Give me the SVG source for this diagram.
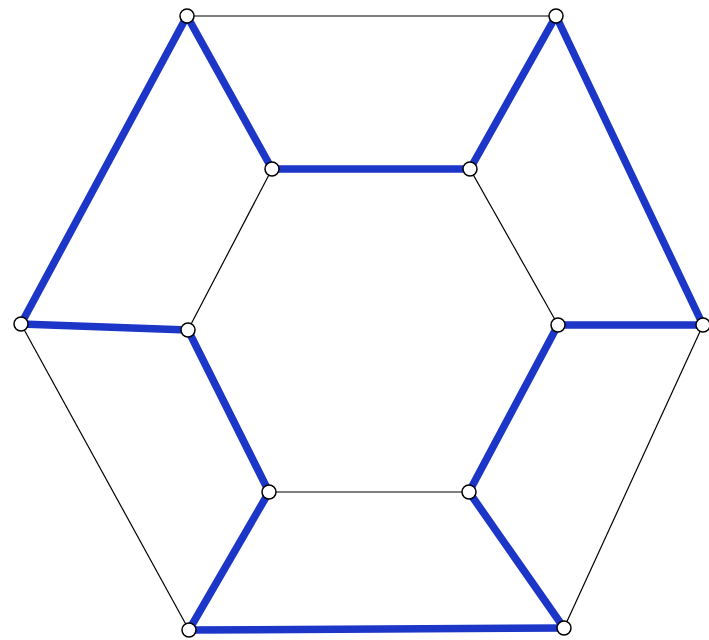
<svg xmlns="http://www.w3.org/2000/svg" width="709" height="640" viewBox="0 0 709 640">
<style>
.thin{stroke:#000;stroke-width:1.2;fill:none}
.blue{stroke:#1c36c8;stroke-width:7.5;fill:none;stroke-linecap:round}
.node{fill:#fff;stroke:#000;stroke-width:1.5}
</style>
<rect width="709" height="640" fill="#fff"/>
<g id="connectors">
<line class="thin" x1="187" y1="16" x2="556" y2="16"/>
<line class="thin" x1="272" y1="169" x2="188" y2="330"/>
<line class="thin" x1="470" y1="169" x2="558" y2="325"/>
<line class="thin" x1="269" y1="492" x2="469" y2="492"/>
<line class="thin" x1="21" y1="324" x2="189" y2="630"/>
<line class="thin" x1="703" y1="325" x2="564" y2="628"/>
<line class="blue" x1="187" y1="16" x2="272" y2="169"/>
<line class="blue" x1="187" y1="16" x2="21" y2="324"/>
<line class="blue" x1="272" y1="169" x2="470" y2="169"/>
<line class="blue" x1="470" y1="169" x2="556" y2="16"/>
<line class="blue" x1="556" y1="16" x2="703" y2="325"/>
<line class="blue" x1="703" y1="325" x2="558" y2="325"/>
<line class="blue" x1="558" y1="325" x2="469" y2="492"/>
<line class="blue" x1="469" y1="492" x2="564" y2="628"/>
<line class="blue" x1="564" y1="628" x2="189" y2="630"/>
<line class="blue" x1="189" y1="630" x2="269" y2="492"/>
<line class="blue" x1="269" y1="492" x2="188" y2="330"/>
<line class="blue" x1="188" y1="330" x2="21" y2="324"/>
</g>
<g id="n1"><circle class="node" cx="187" cy="16" r="7"/></g>
<g id="n2"><circle class="node" cx="556" cy="16" r="7"/></g>
<g id="n3"><circle class="node" cx="703" cy="325" r="7"/></g>
<g id="n4"><circle class="node" cx="564" cy="628" r="7"/></g>
<g id="n5"><circle class="node" cx="189" cy="630" r="7"/></g>
<g id="n6"><circle class="node" cx="21" cy="324" r="7"/></g>
<g id="n7"><circle class="node" cx="272" cy="169" r="7"/></g>
<g id="n8"><circle class="node" cx="470" cy="169" r="7"/></g>
<g id="n9"><circle class="node" cx="558" cy="325" r="7"/></g>
<g id="n10"><circle class="node" cx="469" cy="492" r="7"/></g>
<g id="n11"><circle class="node" cx="269" cy="492" r="7"/></g>
<g id="n12"><circle class="node" cx="188" cy="330" r="7"/></g>
</svg>
